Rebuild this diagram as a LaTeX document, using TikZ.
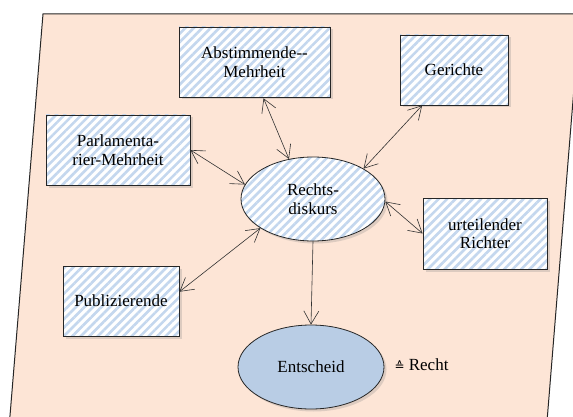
\documentclass[tikz,border=0pt]{standalone}
\usepackage{fontspec}
\setmainfont{Liberation Serif}
\newfontfamily\symfont{DejaVu Sans}
\usetikzlibrary{shapes.geometric,arrows.meta,patterns.meta,shadows,calc}
\definecolor{bgpeach}{RGB}{253,229,214}
\definecolor{stripe}{RGB}{196,215,238}
\definecolor{entfill}{RGB}{185,205,229}
\definecolor{linecol}{RGB}{50,50,50}
\tikzset{
  txt/.style={font=\fontsize{17}{18.5}\selectfont, align=center, text=black},
  shd/.style={drop shadow={opacity=0.25, shadow xshift=2.5pt, shadow yshift=-2.5pt}},
  hatched/.style={shd, preaction={fill=white}, pattern={Lines[angle=45,distance=6pt,line width=2.6pt]}, pattern color=stripe},
  boxnode/.style={txt, draw=black!85, line width=0.8pt, rectangle, inner sep=0pt, hatched},
  ellnode/.style={txt, draw=black!85, line width=0.8pt, ellipse, inner sep=0pt},
  link/.style={draw=linecol, line width=0.6pt},
  bt/.tip={Straight Barb[length=13pt,width=15pt,line width=0.6pt]}
}
\begin{document}
\begin{tikzpicture}[x=1pt,y=-1pt]
\useasboundingbox (0,0) rectangle (573,417);
\clip (0,0) rectangle (573,417);
\fill[white] (0,0) rectangle (573,417);
\draw[fill=bgpeach, draw=black!85, line width=1pt] (43,14) -- (580,14) -- (545.5,440) -- (8,440) -- cycle;

\node[boxnode, minimum width=151pt, minimum height=70pt] (ab) at (254.5,62) {Abstimmende-{}-\\Mehrheit};
\node[boxnode, minimum width=108pt, minimum height=70pt] (ge) at (454,70) {Gerichte};
\node[boxnode, minimum width=144pt, minimum height=70pt] (pa) at (118,150) {Parlamenta-\\rier-Mehrheit};
\node[boxnode, minimum width=124pt, minimum height=71pt] (ur) at (485,233.5) {urteilender\\Richter};
\node[boxnode, minimum width=116pt, minimum height=70pt] (pu) at (121,301) {Publizierende};
\node[ellnode, hatched, minimum width=144pt, minimum height=84pt] (rd) at (313,199) {Rechts-\\diskurs};
\node[ellnode, shd, fill=entfill, minimum width=146pt, minimum height=84pt] (en) at (311,367) {Entscheid};
\node[txt, anchor=west] (re) at (391,365) {{\symfont\fontsize{12}{14}\selectfont ≙} Recht};

\draw[link, bt-bt] (ab.-76) -- (rd.121.6);
\draw[link, bt-bt] (ge.228.5) -- (rd.31.3);
\draw[link, bt-bt] (pa.east) -- (rd.168.8);
\draw[link, bt-bt] (ur.west) -- (rd.-2.4);
\draw[link, bt-bt] (pu.9) -- (rd.209.6);
\draw[link, -bt] (rd.south) -- (en.north);
\end{tikzpicture}
\end{document}
